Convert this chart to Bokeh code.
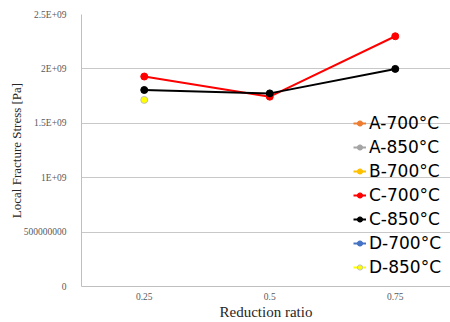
from bokeh.plotting import figure
from bokeh.models import Range1d, FixedTicker, Legend, LegendItem, ColumnDataSource
from bokeh.embed import file_html
from bokeh.resources import INLINE

nan = float("nan")

# ---- data ----
ratios = [0.25, 0.5, 0.75]
x_tick_labels = ["0.25", "0.5", "0.75"]
y_ticks = [0, 5e8, 1e9, 1.5e9, 2e9, 2.5e9]
y_tick_labels = ["0", "500000000", "1E+09", "1.5E+09", "2E+09", "2.5E+09"]

series_names = ["A-700°C", "A-850°C", "B-700°C", "C-700°C", "C-850°C", "D-700°C", "D-850°C"]
series_colors = ["#ED7D31", "#A5A5A5", "#FFC000", "#FF0000", "#000000", "#4472C4", "#FFFF00"]
a700 = [nan, nan, nan]
a850 = [nan, nan, nan]
b700 = [nan, nan, nan]
c700 = [1.93e9, 1.745e9, 2.30e9]
c850 = [1.806e9, 1.775e9, 2.00e9]
d700 = [nan, nan, nan]
d850 = [1.715e9, nan, nan]
series_values = [a700, a850, b700, c700, c850, d700, d850]

p = figure(width=450, height=322, output_backend="svg", toolbar_location=None,
           x_range=Range1d(0.125, 0.86), y_range=Range1d(0, 2.5e9),
           min_border_left=81, min_border_right=0, min_border_top=14, min_border_bottom=0)
p.outline_line_color = None
p.background_fill_color = "white"

for ax in (p.xaxis[0], p.yaxis[0]):
    ax.axis_line_color = "#BFBFBF"
    ax.axis_line_width = 1
    ax.major_tick_line_color = None
    ax.minor_tick_line_color = None
    ax.major_label_text_font = "Liberation Serif"
    ax.major_label_text_font_size = "9.5px"
    ax.major_label_text_color = "#595959"
    ax.axis_label_text_font = "Liberation Serif"
    ax.axis_label_text_font_style = "normal"
    ax.axis_label_text_color = "#262626"

p.xaxis.ticker = FixedTicker(ticks=ratios)
p.xaxis.major_label_overrides = {r: l for r, l in zip(ratios, x_tick_labels)}
p.xaxis.axis_label = "Reduction ratio"
p.xaxis.axis_label_text_font_size = "15px"
p.xaxis.major_label_standoff = 0
p.xaxis.axis_label_standoff = 1

p.yaxis.ticker = FixedTicker(ticks=y_ticks)
p.yaxis.major_label_overrides = {t: l for t, l in zip(y_ticks, y_tick_labels)}
p.yaxis.axis_label = "Local Fracture Stress [Pa]"
p.yaxis.axis_label_text_font_size = "13px"
p.yaxis.major_label_standoff = 9
p.yaxis.axis_label_standoff = -3

p.xgrid.grid_line_color = None
p.ygrid.grid_line_color = "#C8C8C8"
p.ygrid.grid_line_width = 1

items = []
for name, color, vals in zip(series_names, series_colors, series_values):
    src = ColumnDataSource(dict(x=ratios[:len(vals)], y=vals))
    ln = p.line("x", "y", source=src, line_color=color, line_width=2)
    outline = "#BFBFBF" if color == "#FFFF00" else color
    sc = p.scatter("x", "y", source=src, size=7, fill_color=color, line_color=outline)
    items.append(LegendItem(label=name, renderers=[ln, sc]))

legend = Legend(items=items, location=(272, 9), padding=0, margin=0, spacing=4,
                glyph_width=13, glyph_height=20, label_standoff=3,
                label_text_font="DejaVu Sans", label_text_font_size="17px",
                label_text_color="#000000", border_line_color=None,
                background_fill_alpha=0)
p.add_layout(legend, "center")

open("out.html", "w").write(file_html(p, INLINE))
